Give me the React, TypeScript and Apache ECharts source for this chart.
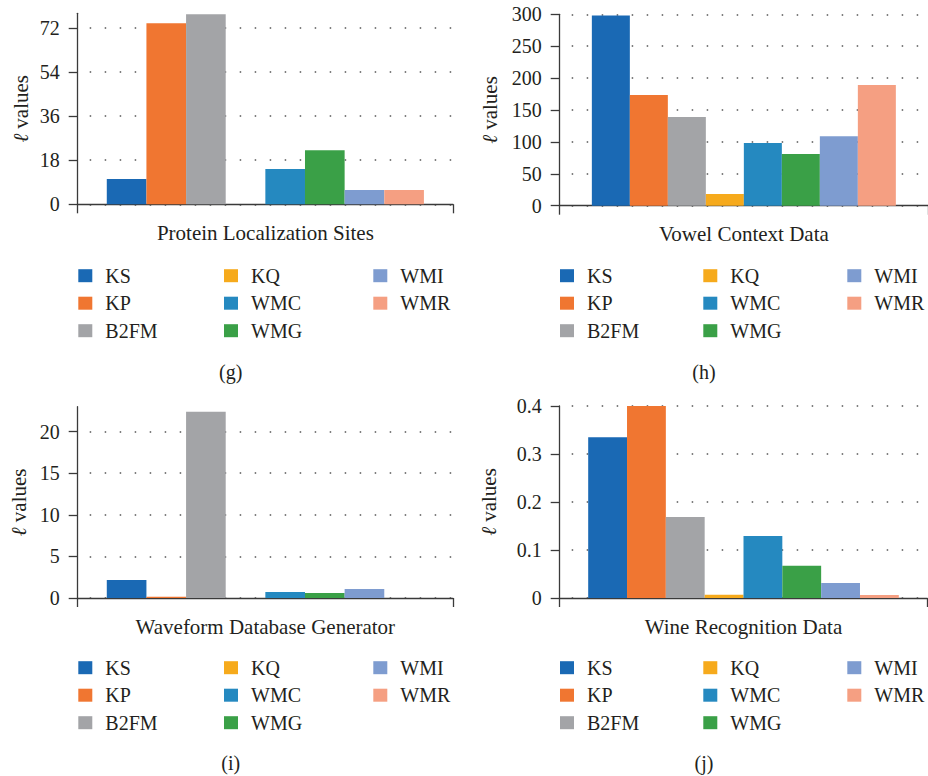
import React, { useEffect, useRef } from 'react';
import * as echarts from 'echarts';

const seriesNames = ['KS', 'KP', 'B2FM', 'KQ', 'WMC', 'WMG', 'WMI', 'WMR'];
const seriesColors = ['#1a69b4', '#f07631', '#a3a4a7', '#f6aa1c', '#2589c0', '#3aa047', '#7e9cd0', '#f59f82'];

const proteinValues = [10.3, 73.9, 77.6, 0, 14.4, 22.1, 5.8, 5.8];
const vowelValues = [298, 173.5, 139, 18.3, 98.3, 81, 109, 189];
const waveformValues = [2.16, 0.15, 22.4, 0, 0.72, 0.6, 1.08, 0];
const wineValues = [0.335, 0.4, 0.169, 0.007, 0.129, 0.067, 0.031, 0.006];

const proteinTicks = [0, 18, 36, 54, 72];
const vowelTicks = [0, 50, 100, 150, 200, 250, 300];
const waveformTicks = [0, 5, 10, 15, 20];
const wineTicks = [0, 0.1, 0.2, 0.3, 0.4];

const panelTitles = ['Protein Localization Sites', 'Vowel Context Data', 'Waveform Database Generator', 'Wine Recognition Data'];
const panelTags = ['(g)', '(h)', '(i)', '(j)'];
const legendColumns = [['KS', 'KP', 'B2FM'], ['KQ', 'WMC', 'WMG'], ['WMI', 'WMR']];
const yAxisName = '{l|ℓ} values';

const FONT = 'Liberation Serif';
const TEXT = '#231f20';
const AXIS = '#3a3a3a';

const panelValues = [proteinValues, vowelValues, waveformValues, wineValues];
const panelTicks = [proteinTicks, vowelTicks, waveformTicks, wineTicks];
const panelMax = [78, 300, 23, 0.4];

// layout (pixels)
const grids = [
  { left: 77.7, top: 13.3, width: 375.3, height: 191 },
  { left: 559.7, top: 14.3, width: 376.6, height: 191.4 },
  { left: 77.7, top: 406.7, width: 375.3, height: 191.3 },
  { left: 559.7, top: 406, width: 367.6, height: 192 },
];
const barWidths: (number | undefined)[] = [undefined, 38, undefined, undefined];
const nameGaps = [46, 59, 48, 60];
const legendCols = [
  [78.3, 224, 373.3],
  [560, 703.3, 847.3],
  [78.3, 224, 373.3],
  [560, 703.3, 847.3],
];
const legendTops = [265.7, 265.7, 657.7, 657.7];
const tagPos = [
  [230.7, 371.7],
  [704, 371.7],
  [230.7, 763.2],
  [704, 763.2],
];

export default function App() {
  const ref = useRef<HTMLDivElement>(null);
  useEffect(() => {
    document.body.style.margin = '0';
    const chart = echarts.init(ref.current!, null, { renderer: 'svg' });

    const xAxis: any[] = [];
    const yAxis: any[] = [];
    const series: any[] = [];
    const legend: any[] = [];
    const graphic: any[] = [];

    for (let p = 0; p < 4; p++) {
      xAxis.push({
        type: 'category',
        gridIndex: p,
        data: [''],
        boundaryGap: true,
        name: panelTitles[p],
        nameLocation: 'middle',
        nameGap: 18,
        nameTextStyle: { fontFamily: FONT, fontSize: 21, color: TEXT, lineHeight: 21 },
        axisLine: { show: true, lineStyle: { color: AXIS, width: 1.3 } },
        axisTick: { show: true, length: 9, alignWithLabel: false, lineStyle: { color: AXIS, width: 1.3 } },
        axisLabel: { show: false },
        splitLine: { show: false },
      });
      const step = panelTicks[p][1] - panelTicks[p][0];
      yAxis.push({
        type: 'value',
        gridIndex: p,
        min: 0,
        max: panelMax[p],
        interval: step,
        name: yAxisName,
        nameLocation: 'middle',
        nameGap: nameGaps[p],
        nameTextStyle: {
          fontFamily: FONT,
          fontSize: 21,
          color: TEXT,
          lineHeight: 21,
          rich: { l: { fontFamily: FONT, fontSize: 21, fontStyle: 'italic', color: TEXT } },
        },
        axisLine: { show: true, lineStyle: { color: AXIS, width: 1.3 } },
        axisTick: { show: true, length: 9, inside: false, customValues: panelTicks[p], lineStyle: { color: AXIS, width: 1.3 } },
        axisLabel: {
          show: true,
          customValues: panelTicks[p],
          margin: 18,
          fontFamily: FONT,
          fontSize: 20,
          color: TEXT,
        },
        splitLine: {
          show: true,
          lineStyle: { color: '#555', width: 1.5, type: [1.5, 13.5], dashOffset: 3.4 },
        },
      });
      for (let s = 0; s < seriesNames.length; s++) {
        const ser: any = {
          type: 'bar',
          name: seriesNames[s],
          xAxisIndex: p,
          yAxisIndex: p,
          data: [panelValues[p][s]],
          barGap: '0%',
          barCategoryGap: '15.5%',
          itemStyle: { color: seriesColors[s] },
          emphasis: { disabled: true },
        };
        if (barWidths[p] !== undefined) ser.barWidth = barWidths[p];
        series.push(ser);
      }
      for (let c = 0; c < 3; c++) {
        legend.push({
          orient: 'vertical',
          left: legendCols[p][c],
          top: legendTops[p],
          padding: 0,
          itemGap: 7.5,
          itemWidth: 14,
          itemHeight: 13,
          icon: 'rect',
          selectedMode: false,
          data: legendColumns[c],
          textStyle: { fontFamily: FONT, fontSize: 20, color: TEXT, lineHeight: 20, padding: [0, 0, 0, 8] },
        });
      }
      graphic.push({
        type: 'text',
        x: tagPos[p][0],
        y: tagPos[p][1],
        style: {
          text: panelTags[p],
          fontFamily: FONT,
          fontSize: 20,
          fill: TEXT,
          textAlign: 'center',
          textVerticalAlign: 'middle',
        },
      });
    }

    chart.setOption({
      animation: false,
      backgroundColor: '#ffffff',
      textStyle: { fontFamily: FONT },
      grid: grids.map((g) => ({ ...g, containLabel: false })),
      xAxis,
      yAxis,
      series,
      legend,
      graphic,
      tooltip: { show: false },
    });
    return () => chart.dispose();
  }, []);
  return <div ref={ref} style={{ width: 928, height: 776 }} />;
}
